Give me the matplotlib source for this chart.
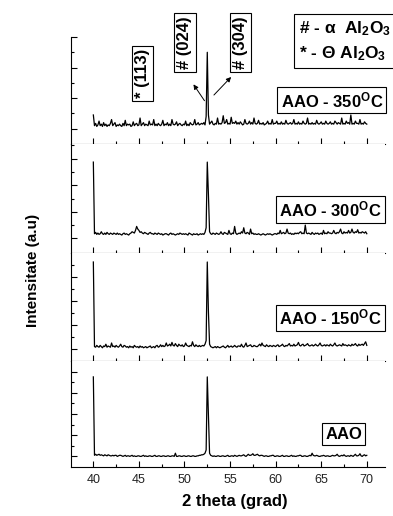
import numpy as np
import matplotlib
matplotlib.use("Agg")
import matplotlib.pyplot as plt

plt.rcParams['font.family'] = ['Liberation Sans', 'DejaVu Sans']
plt.rcParams['mathtext.fontset'] = 'custom'
plt.rcParams['mathtext.rm'] = 'Liberation Sans'
plt.rcParams['mathtext.bf'] = 'Liberation Sans:bold'
plt.rcParams['mathtext.it'] = 'Liberation Sans:italic'

# ---------------- data (2 theta 40..70, step 0.125 grad, 16 points per row) ----------------
two_theta = np.linspace(40, 70, 241)

aao = [
    8.5, 1.1, 1.2, 1.1, 1.15, 1.2, 1.1, 1.15, 1.1, 1.05, 1.15, 1.1, 1.05, 1.15, 1.1, 1.05,
    1.05, 1.1, 1.05, 1.1, 1.1, 1.0, 1.05, 1.1, 1.1, 1.05, 1.0, 1.05, 1.1, 1.0, 1.05, 1.05,
    1.0, 1.05, 1.1, 1.0, 1.05, 1.0, 1.0, 1.05, 1.05, 1.0, 1.0, 1.05, 1.1, 1.0, 1.05, 1.0,
    1.0, 1.05, 1.05, 1.0, 1.0, 1.05, 1.1, 1.0, 1.0, 1.05, 1.05, 1.0, 1.0, 1.05, 1.05, 1.0,
    1.0, 1.05, 1.05, 1.0, 1.0, 1.05, 1.05, 1.0, 1.3, 1.0, 1.0, 1.05, 1.05, 1.0, 1.0, 1.05,
    1.05, 1.0, 1.0, 1.05, 1.05, 1.0, 1.0, 1.05, 1.05, 1.0, 1.0, 1.05, 1.05, 1.1, 1.1, 1.15,
    1.15, 1.2, 1.3, 1.6, 8.5, 4.8, 1.3, 1.1, 1.05, 1.0, 1.05, 1.0, 1.0, 1.05, 1.05, 1.0,
    1.0, 1.05, 1.05, 1.0, 1.0, 1.05, 1.1, 1.0, 1.0, 1.05, 1.05, 1.0, 1.1, 1.05, 1.0, 1.05,
    1.1, 1.05, 1.05, 1.1, 1.15, 1.05, 1.0, 1.1, 1.2, 1.1, 1.1, 1.15, 1.25, 1.1, 1.1, 1.15,
    1.2, 1.1, 1.05, 1.1, 1.1, 1.05, 1.0, 1.05, 1.05, 1.0, 1.0, 1.05, 1.05, 1.1, 1.1, 1.0,
    1.0, 1.05, 1.05, 1.0, 1.0, 1.05, 1.1, 1.0, 1.0, 1.05, 1.05, 1.0, 1.0, 1.05, 1.1, 1.0,
    1.05, 1.0, 1.0, 1.05, 1.05, 1.1, 1.1, 1.0, 1.0, 1.05, 1.05, 1.0, 1.0, 1.05, 1.1, 1.05,
    1.3, 1.1, 1.05, 1.05, 1.1, 1.05, 1.0, 1.0, 1.05, 1.05, 1.1, 1.05, 1.0, 1.05, 1.05, 1.0,
    1.0, 1.05, 1.1, 1.05, 1.05, 1.1, 1.2, 1.05, 1.0, 1.05, 1.1, 1.05, 1.15, 1.05, 1.0, 1.05,
    1.05, 1.0, 1.1, 1.05, 1.0, 1.1, 1.2, 1.05, 1.05, 1.1, 1.25, 1.05, 1.0, 1.1, 1.15, 1.05,
    1.1]

aao_150 = [
    8.25, 1.2, 1.15, 1.3, 1.2, 1.15, 1.3, 1.2, 1.1, 1.25, 1.2, 1.4, 1.15, 1.25, 1.2, 1.15,
    1.5, 1.2, 1.25, 1.15, 1.3, 1.2, 1.15, 1.25, 1.4, 1.2, 1.15, 1.3, 1.25, 1.15, 1.2, 1.1,
    1.25, 1.15, 1.2, 1.1, 1.3, 1.2, 1.15, 1.2, 1.1, 1.25, 1.15, 1.2, 1.1, 1.15, 1.2, 1.1,
    1.15, 1.2, 1.25, 1.1, 1.15, 1.2, 1.1, 1.25, 1.3, 1.15, 1.2, 1.35, 1.2, 1.3, 1.2, 1.25,
    1.5, 1.25, 1.3, 1.4, 1.25, 1.55, 1.3, 1.25, 1.45, 1.3, 1.2, 1.4, 1.3, 1.25, 1.35, 1.2,
    1.25, 1.5, 1.3, 1.25, 1.2, 1.3, 1.25, 1.6, 1.3, 1.2, 1.35, 1.25, 1.2, 1.3, 1.2, 1.25,
    1.3, 1.25, 1.4, 1.7, 8.25, 4.1, 1.4, 1.2, 1.15, 1.1, 1.15, 1.2, 1.1, 1.2, 1.15, 1.1,
    1.15, 1.2, 1.25, 1.15, 1.1, 1.2, 1.3, 1.15, 1.2, 1.25, 1.15, 1.2, 1.3, 1.2, 1.15, 1.25,
    1.25, 1.2, 1.4, 1.2, 1.15, 1.3, 1.5, 1.2, 1.25, 1.3, 1.35, 1.2, 1.2, 1.3, 1.25, 1.2,
    1.2, 1.3, 1.4, 1.25, 1.5, 1.3, 1.25, 1.2, 1.35, 1.25, 1.2, 1.3, 1.25, 1.2, 1.3, 1.25,
    1.2, 1.3, 1.35, 1.2, 1.25, 1.3, 1.4, 1.25, 1.2, 1.3, 1.25, 1.35, 1.45, 1.25, 1.3, 1.25,
    1.4, 1.25, 1.3, 1.35, 1.55, 1.3, 1.25, 1.35, 1.4, 1.25, 1.3, 1.35, 1.45, 1.3, 1.25, 1.3,
    1.35, 1.25, 1.3, 1.4, 1.3, 1.25, 1.35, 1.5, 1.3, 1.25, 1.3, 1.35, 1.25, 1.35, 1.3, 1.25,
    1.4, 1.3, 1.25, 1.35, 1.5, 1.3, 1.25, 1.3, 1.35, 1.3, 1.25, 1.45, 1.3, 1.35, 1.3, 1.25,
    1.35, 1.3, 1.25, 1.4, 1.3, 1.35, 1.45, 1.3, 1.25, 1.4, 1.3, 1.35, 1.4, 1.3, 1.45, 1.6,
    1.3]

aao_300 = [
    6.74, 1.35, 1.45, 1.3, 1.4, 1.3, 1.35, 1.5, 1.35, 1.3, 1.4, 1.3, 1.45, 1.35, 1.3, 1.4,
    1.35, 1.3, 1.4, 1.35, 1.3, 1.4, 1.3, 1.35, 1.3, 1.25, 1.35, 1.4, 1.3, 1.35, 1.3, 1.25,
    1.35, 1.4, 1.5, 1.45, 1.4, 1.6, 1.9, 1.7, 1.6, 1.45, 1.5, 1.4, 1.35, 1.45, 1.4, 1.35,
    1.3, 1.4, 1.45, 1.35, 1.35, 1.3, 1.4, 1.35, 1.3, 1.4, 1.35, 1.3, 1.35, 1.25, 1.3, 1.35,
    1.35, 1.3, 1.25, 1.35, 1.4, 1.3, 1.35, 1.3, 1.25, 1.3, 1.35, 1.3, 1.4, 1.35, 1.3, 1.35,
    1.3, 1.35, 1.3, 1.25, 1.4, 1.35, 1.3, 1.25, 1.35, 1.3, 1.3, 1.35, 1.25, 1.3, 1.35, 1.3,
    1.35, 1.3, 1.45, 1.8, 6.74, 4.3, 1.5, 1.35, 1.3, 1.4, 1.35, 1.3, 1.4, 1.35, 1.3, 1.35,
    1.5, 1.35, 1.3, 1.45, 1.4, 1.35, 1.3, 1.6, 1.35, 1.3, 1.4, 1.35, 1.9, 1.4, 1.3, 1.35,
    1.4, 1.35, 1.5, 1.4, 1.8, 1.4, 1.35, 1.45, 1.4, 1.3, 1.7, 1.35, 1.4, 1.3, 1.35, 1.3,
    1.3, 1.35, 1.3, 1.25, 1.3, 1.35, 1.3, 1.25, 1.3, 1.35, 1.3, 1.35, 1.3, 1.25, 1.3, 1.35,
    1.35, 1.3, 1.4, 1.35, 1.6, 1.35, 1.4, 1.45, 1.35, 1.4, 1.7, 1.4, 1.35, 1.4, 1.3, 1.35,
    1.3, 1.4, 1.35, 1.4, 1.35, 1.45, 1.5, 1.35, 1.4, 1.35, 2.0, 1.4, 1.35, 1.4, 1.35, 1.3,
    1.45, 1.35, 1.3, 1.4, 1.35, 1.4, 1.3, 1.35, 1.4, 1.3, 1.6, 1.35, 1.4, 1.35, 1.5, 1.4,
    1.4, 1.35, 1.4, 1.6, 1.4, 1.35, 1.45, 1.4, 1.5, 1.7, 1.4, 1.35, 1.5, 1.4, 1.45, 1.4,
    1.6, 1.4, 1.45, 1.7, 1.45, 1.4, 1.5, 1.45, 1.65, 1.4, 1.45, 1.4, 1.5, 1.45, 1.4, 1.5,
    1.35]

aao_350 = [
    1.9, 1.2, 1.35, 1.15, 1.25, 1.5, 1.2, 1.3, 1.15, 1.4, 1.2, 1.3, 1.15, 1.25, 1.2, 1.35,
    1.6, 1.2, 1.3, 1.4, 1.15, 1.25, 1.2, 1.3, 1.2, 1.15, 1.35, 1.2, 1.55, 1.2, 1.3, 1.25,
    1.3, 1.15, 1.2, 1.45, 1.2, 1.3, 1.35, 1.2, 1.25, 1.7, 1.2, 1.3, 1.4, 1.2, 1.3, 1.25,
    1.2, 1.5, 1.25, 1.3, 1.25, 1.6, 1.2, 1.3, 1.2, 1.35, 1.25, 1.2, 1.3, 1.55, 1.2, 1.3,
    1.25, 1.4, 1.2, 1.3, 1.2, 1.6, 1.3, 1.25, 1.3, 1.45, 1.2, 1.3, 1.35, 1.25, 1.2, 1.3,
    1.25, 1.5, 1.2, 1.3, 1.2, 1.4, 1.3, 1.25, 1.3, 1.6, 1.25, 1.3, 1.4, 1.25, 1.3, 1.35,
    1.3, 1.4, 1.25, 1.8, 6.0, 1.9, 1.3, 1.4, 1.5, 1.3, 1.25, 1.35, 1.3, 1.7, 1.3, 1.35,
    1.3, 1.4, 1.85, 1.35, 1.4, 1.6, 1.3, 1.35, 1.3, 1.75, 1.35, 1.4, 1.35, 1.5, 1.3, 1.4,
    1.3, 1.45, 1.35, 1.25, 1.3, 1.6, 1.35, 1.3, 1.35, 1.5, 1.3, 1.4, 1.3, 1.7, 1.35, 1.3,
    1.35, 1.55, 1.3, 1.35, 1.3, 1.4, 1.25, 1.3, 1.35, 1.5, 1.3, 1.35, 1.3, 1.6, 1.3, 1.35,
    1.35, 1.5, 1.3, 1.35, 1.3, 1.45, 1.3, 1.35, 1.3, 1.55, 1.35, 1.3, 1.35, 1.4, 1.3, 1.35,
    1.6, 1.3, 1.35, 1.3, 1.45, 1.3, 1.35, 1.3, 1.5, 1.35, 1.3, 1.35, 1.7, 1.3, 1.35, 1.3,
    1.4, 1.3, 1.35, 1.3, 1.55, 1.35, 1.3, 1.35, 1.45, 1.3, 1.35, 1.3, 1.5, 1.35, 1.3, 1.35,
    1.45, 1.3, 1.35, 1.3, 1.5, 1.4, 1.3, 1.4, 1.35, 1.3, 1.7, 1.3, 1.35, 1.3, 1.5, 1.35,
    1.4, 1.3, 1.9, 1.3, 1.35, 1.3, 1.5, 1.35, 1.35, 1.3, 1.6, 1.3, 1.35, 1.3, 1.45, 1.35,
    1.3]

labels = ['AAO - 350$^{\\mathbf{O}}$C', 'AAO - 300$^{\\mathbf{O}}$C',
          'AAO - 150$^{\\mathbf{O}}$C', 'AAO']
series = [aao_350, aao_300, aao_150, aao]

# ---------------- figure ----------------
fig = plt.figure(figsize=(3.93, 5.16), dpi=100)

# [bottom, height, ylim, major y ticks, minor y ticks, label x, label y]
panels = [
    (0.7209, 0.2074, (0, 7), [1, 3, 5, 7], [2, 4, 6], 0.994, 0.41),
    (0.5097, 0.2112, (-0.1, 8.1), [1, 3, 5, 7], [2, 4, 6, 8], 0.99, 0.40),
    (0.3004, 0.2093, (0, 9), [1, 3, 5, 7], [2, 4, 6, 8], 0.99, 0.40),
    (0.0950, 0.2054, (0, 10), [1, 3, 5, 7, 9], [2, 4, 6, 8], 0.927, 0.31),
]

axes = []
for i, (b, h, yl, ymaj, ymin, lx, ly) in enumerate(panels):
    ax = fig.add_axes([0.1807, b, 0.799, h])
    ax.plot(two_theta, series[i], color='black', lw=0.9)
    ax.set_xlim(37.55, 72.0)
    ax.set_ylim(*yl)
    ax.set_yticks(ymaj)
    ax.set_yticks(ymin, minor=True)
    ax.set_xticks(np.arange(40, 71, 5))
    ax.set_xticks(np.arange(42.5, 70, 5), minor=True)
    ax.spines['top'].set_visible(False)
    ax.spines['right'].set_visible(False)
    for s in ('left', 'bottom'):
        ax.spines[s].set_linewidth(0.8)
    ax.tick_params(which='major', direction='in', length=4, width=0.8,
                   labelleft=False, labelsize=9, labelcolor='#222222', pad=5)
    ax.tick_params(which='minor', direction='in', length=2.2, width=0.8)
    if i < 3:
        ax.tick_params(labelbottom=False)
    ax.text(lx, ly, labels[i], transform=ax.transAxes, ha='right', va='center',
            fontsize=12, fontweight='bold',
            bbox=dict(boxstyle='square,pad=0.2', fc='white', ec='black', lw=0.8))
    axes.append(ax)

ax_top = axes[0]
box = dict(boxstyle='square,pad=0.2', fc='white', ec='black', lw=0.8)
ax_top.text(0.228, 0.659, '* (113)', transform=ax_top.transAxes, rotation=90,
            ha='center', va='center', fontsize=12, fontweight='bold', bbox=box)
ax_top.text(0.363, 0.948, '# (024)', transform=ax_top.transAxes, rotation=90,
            ha='center', va='center', fontsize=12, fontweight='bold', bbox=box)
ax_top.text(0.54, 0.948, '# (304)', transform=ax_top.transAxes, rotation=90,
            ha='center', va='center', fontsize=12, fontweight='bold', bbox=box)
ax_top.annotate('', xy=(0.385, 0.579), xytext=(0.43, 0.383),
                xycoords='axes fraction', textcoords='axes fraction',
                arrowprops=dict(arrowstyle='-|>', lw=0.7, color='black',
                                mutation_scale=7))
ax_top.annotate('', xy=(0.516, 0.645), xytext=(0.449, 0.439),
                xycoords='axes fraction', textcoords='axes fraction',
                arrowprops=dict(arrowstyle='-|>', lw=0.7, color='black',
                                mutation_scale=7))

# legend of phases
fig.text(0.762, 0.921,
         '# - α  Al$_{\\mathbf{2}}$O$_{\\mathbf{3}}$\n* - Θ Al$_{\\mathbf{2}}$O$_{\\mathbf{3}}$',
         ha='left', va='center', fontsize=12.5, fontweight='bold', linespacing=1.45,
         bbox=dict(boxstyle='square,pad=0.3', fc='white', ec='black', lw=0.8))

fig.text(0.598, 0.029, '2 theta (grad)', ha='center', va='center',
         fontsize=12, fontweight='bold')
fig.text(0.085, 0.475, 'Intensitate (a.u)', ha='center', va='center',
         rotation=90, fontsize=11, fontweight='bold')

fig.savefig('out.png', dpi=100)
